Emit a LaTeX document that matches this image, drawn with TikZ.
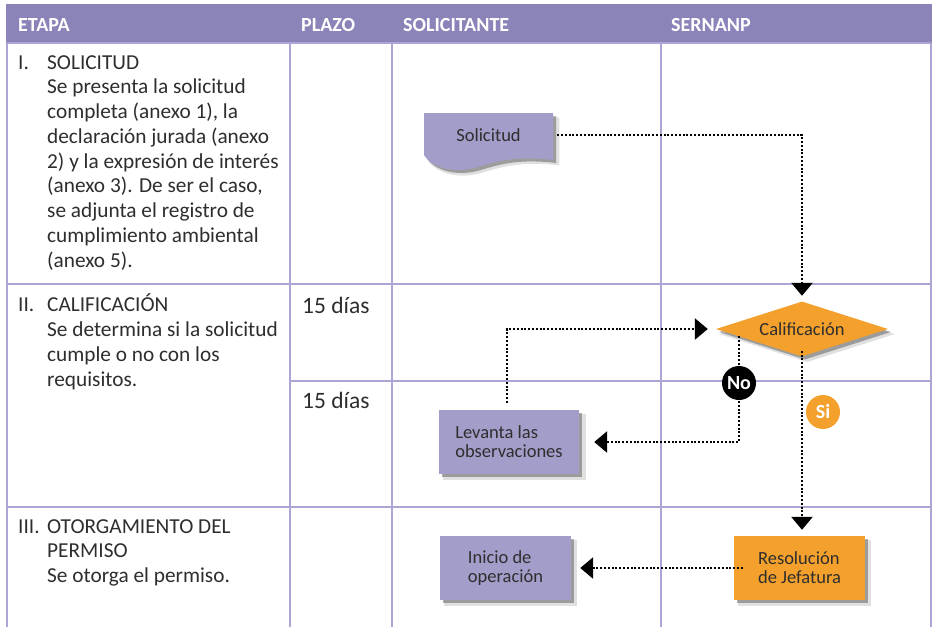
\documentclass[tikz,border=0pt]{standalone}
\usepackage{fontspec}
\setmainfont{Carlito}
\usetikzlibrary{shapes.geometric,arrows.meta,shadows,calc}
\definecolor{hdr}{HTML}{8B84B9}
\definecolor{gridc}{HTML}{ABA6D4}
\definecolor{lav}{HTML}{A39DC9}
\definecolor{org}{HTML}{F3A02C}
\definecolor{txt}{HTML}{2E2E2E}
\begin{document}
\begin{tikzpicture}[x=1pt,y=-1pt,
 gridline/.style={draw=gridc,line width=1.4pt},
 hdrtext/.style={anchor=base west,inner sep=0,text=white,font=\fontsize{20}{24}\selectfont\bfseries},
 coltext/.style={anchor=base west,inner sep=0,text=txt,font=\fontsize{21.3}{25}\selectfont},
 plazotext/.style={anchor=base west,inner sep=0,text=txt,font=\fontsize{23.5}{28}\selectfont},
 softshadow/.style={drop shadow={shadow xshift=3pt,shadow yshift=-3pt,opacity=.3,fill=black},
                    drop shadow={shadow xshift=5pt,shadow yshift=-5pt,opacity=.12,fill=black,shadow scale=1.02}},
 flowbox/.style={rectangle,inner sep=0,align=left,text=txt,font=\fontsize{18.5}{19}\selectfont,softshadow},
 dotline/.style={line width=2.8pt,line cap=butt,dash pattern=on 2pt off 1.8pt},
 arrowtip/.style={-{Triangle[length=13pt,width=21pt]}},
 badge/.style={circle,minimum size=34pt,inner sep=0,text=white,font=\fontsize{20}{20}\selectfont\bfseries}
]
\useasboundingbox (0,0) rectangle (932,627);
\fill[white] (0,0) rectangle (932,627);
% header
\fill[hdr] (6,4) rectangle (932,43);
\node[hdrtext] (h1) at (18,31) {ETAPA};
\node[hdrtext] (h2) at (301,31) {PLAZO};
\node[hdrtext] (h3) at (403,31) {SOLICITANTE};
\node[hdrtext] (h4) at (671,31) {SERNANP};
% grid
\draw[gridline] (7,43) -- (7,627);
\draw[gridline] (931,43) -- (931,627);
\draw[gridline] (290,43) -- (290,627);
\draw[gridline] (392,43) -- (392,627);
\draw[gridline] (661,43) -- (661,627);
\draw[gridline] (7,43) -- (931,43);
\draw[gridline] (7,284) -- (931,284);
\draw[gridline] (7,507) -- (931,507);
\draw[gridline] (290,381) -- (931,381);
% column 1 text
\node[coltext] (n1) at (18,69) {I.};
\node[coltext] (a1) at (47,69) {SOLICITUD};
\node[coltext] (a2) at (47,93.75) {Se presenta la solicitud};
\node[coltext] (a3) at (47,118.5) {completa (anexo 1), la};
\node[coltext] (a4) at (47,143.25) {declaración jurada (anexo};
\node[coltext] (a5) at (47,168) {2) y la expresión de interés};
\node[coltext] (a6) at (47,192.75) {(anexo 3). De ser el caso,};
\node[coltext] (a7) at (47,217.5) {se adjunta el registro de};
\node[coltext] (a8) at (47,242.25) {cumplimiento ambiental};
\node[coltext] (a9) at (47,267) {(anexo 5).};
\node[coltext] (n2) at (18,311) {II.};
\node[coltext] (b1) at (47,311) {CALIFICACIÓN};
\node[coltext] (b2) at (47,336) {Se determina si la solicitud};
\node[coltext] (b3) at (47,361) {cumple o no con los};
\node[coltext] (b4) at (47,386) {requisitos.};
\node[coltext] (n3) at (18,533) {III.};
\node[coltext] (c1) at (47,533) {OTORGAMIENTO DEL};
\node[coltext] (c2) at (47,557.75) {PERMISO};
\node[coltext] (c3) at (47,582.5) {Se otorga el permiso.};
\node[plazotext] (p1) at (302,313) {15 días};
\node[plazotext] (p2) at (302,408) {15 días};
% shapes
\fill[lav,softshadow] (424,113) -- (553,113) -- (553,160)
  .. controls (520,156) and (500,160) .. (478,167)
  .. controls (455,174) and (432,168) .. (424,155) -- cycle;
\node[inner sep=0,minimum width=129pt,minimum height=44pt,text=txt,font=\fontsize{18.5}{19}\selectfont] (sol) at (488.5,135) {Solicitud};
\node[diamond,aspect=3.1,fill=org,minimum width=172pt,minimum height=55pt,inner sep=0,softshadow,text=txt,font=\fontsize{18.5}{19}\selectfont] (cal) at (802,329) {Calificación};
\node[flowbox,fill=lav,minimum width=140pt,minimum height=64pt] (lev) at (509,442) {Levanta las\\observaciones};
\node[flowbox,fill=lav,minimum width=131pt,minimum height=64pt] (ini) at (505.5,568) {Inicio de\\operación};
\node[flowbox,fill=org,minimum width=131pt,minimum height=64pt] (res) at (799.5,568) {Resolución\\de Jefatura};
% connectors
\draw[dotline,arrowtip,shorten <=4pt,shorten >=5.5pt] (sol.east) -| (cal.north);
\draw[dotline,arrowtip,shorten <=7pt,shorten >=8pt] ([xshift=-2pt]lev.north) |- (cal.west);
\coordinate (nostart) at ($(cal.west)!0.27!(cal.south)$);
\draw[dotline,arrowtip,shorten >=15pt] (nostart) |- (lev.east);
\draw[dotline,arrowtip,shorten <=-6pt,shorten >=6pt] (cal.south) -- (cal.south |- res.north);
\draw[dotline,arrowtip,shorten <=-9pt,shorten >=9pt] (res.west) -- (res.west -| ini.east);
% badges
\node[badge,fill=black] (no) at (739,383) {No};
\node[badge,fill=org] (si) at (823,412) {Si};
\end{tikzpicture}
\end{document}
